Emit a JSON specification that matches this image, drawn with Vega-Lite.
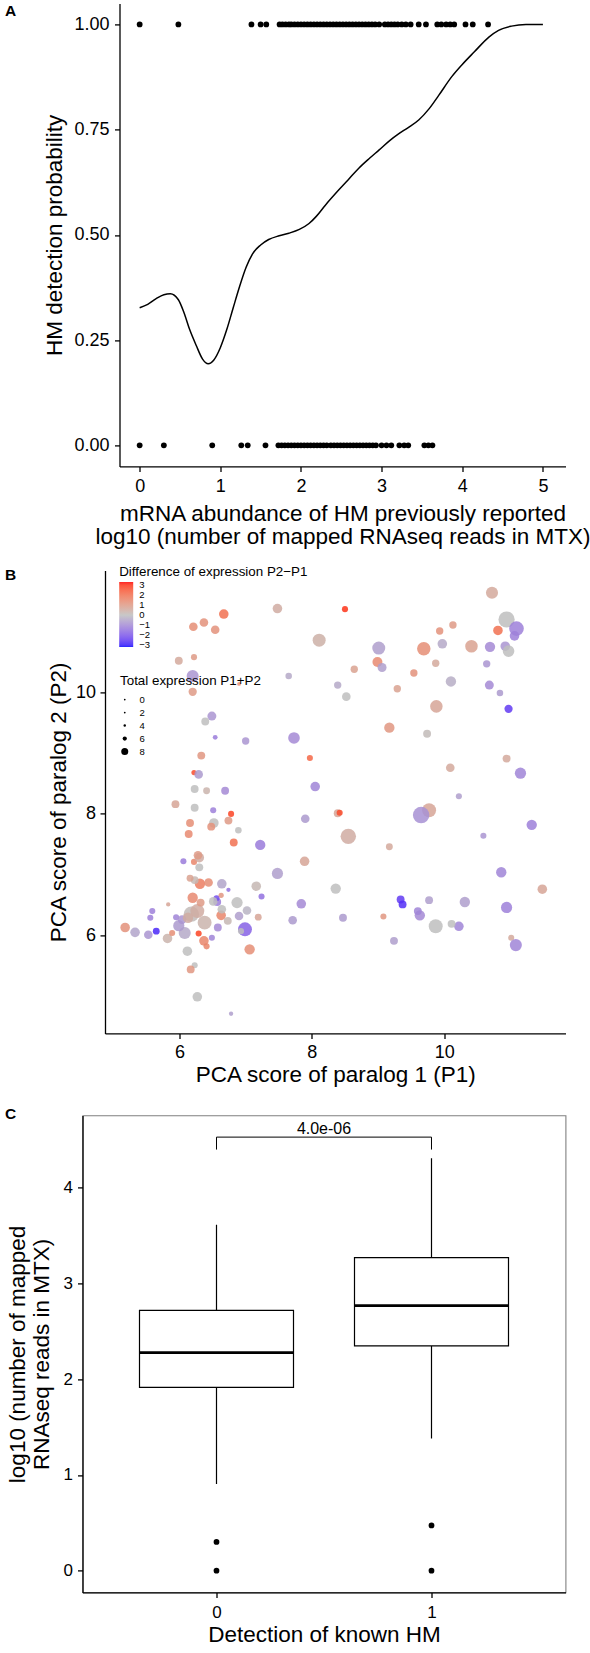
{
"$schema": "https://vega.github.io/schema/vega-lite/v6.json",
"padding": {"left": 3.5, "top": 3.4, "right": 5, "bottom": 5},
"bounds": "flush",
"spacing": 0,
"resolve": {"legend": {"color": "independent", "size": "independent"}, "scale": {"x": "independent", "y": "independent"}},
"config": {
  "font": "Liberation Sans",
  "view": {"stroke": null},
  "axis": {"grid": false, "domainColor": "black", "domainWidth": 1.3, "tickColor": "black", "tickWidth": 1.3, "tickSize": 5, "labelColor": "black", "titleColor": "black", "labelFont": "Liberation Sans", "titleFont": "Liberation Sans", "titleFontWeight": "normal", "labelFontSize": 18, "titleFontSize": 22.5},
  "legend": {"labelFont": "Liberation Sans", "titleFont": "Liberation Sans", "gradientLength": 65, "gradientThickness": 14},
  "title": {"font": "Liberation Sans", "color": "black"}
},
"datasets": {
  "a_pts": [
    {"x":0.0,"y":1},{"x":0.48,"y":1},{"x":1.386,"y":1},{"x":1.5,"y":1},{"x":1.57,"y":1},{"x":1.735,"y":1},{"x":1.77,"y":1},{"x":1.81,"y":1},{"x":1.85,"y":1},{"x":1.88,"y":1},{"x":1.92,"y":1},{"x":1.96,"y":1},{"x":2.0,"y":1},{"x":2.04,"y":1},{"x":2.08,"y":1},{"x":2.12,"y":1},{"x":2.16,"y":1},{"x":2.2,"y":1},{"x":2.24,"y":1},{"x":2.28,"y":1},{"x":2.32,"y":1},{"x":2.36,"y":1},{"x":2.4,"y":1},{"x":2.44,"y":1},{"x":2.48,"y":1},{"x":2.52,"y":1},{"x":2.56,"y":1},{"x":2.6,"y":1},{"x":2.64,"y":1},{"x":2.68,"y":1},{"x":2.72,"y":1},{"x":2.76,"y":1},{"x":2.8,"y":1},{"x":2.84,"y":1},{"x":2.88,"y":1},{"x":2.92,"y":1},{"x":2.97,"y":1},{"x":3.04,"y":1},{"x":3.08,"y":1},{"x":3.12,"y":1},{"x":3.16,"y":1},{"x":3.2,"y":1},{"x":3.25,"y":1},{"x":3.3,"y":1},{"x":3.36,"y":1},{"x":3.46,"y":1},{"x":3.55,"y":1},{"x":3.69,"y":1},{"x":3.74,"y":1},{"x":3.8,"y":1},{"x":3.85,"y":1},{"x":3.9,"y":1},{"x":4.04,"y":1},{"x":4.13,"y":1},{"x":4.32,"y":1},
    {"x":0.0,"y":0},{"x":0.3,"y":0},{"x":0.9,"y":0},{"x":1.26,"y":0},{"x":1.34,"y":0},{"x":1.56,"y":0},{"x":1.72,"y":0},{"x":1.76,"y":0},{"x":1.8,"y":0},{"x":1.84,"y":0},{"x":1.88,"y":0},{"x":1.92,"y":0},{"x":1.96,"y":0},{"x":2.0,"y":0},{"x":2.04,"y":0},{"x":2.08,"y":0},{"x":2.12,"y":0},{"x":2.16,"y":0},{"x":2.2,"y":0},{"x":2.24,"y":0},{"x":2.28,"y":0},{"x":2.32,"y":0},{"x":2.37,"y":0},{"x":2.41,"y":0},{"x":2.45,"y":0},{"x":2.49,"y":0},{"x":2.53,"y":0},{"x":2.57,"y":0},{"x":2.61,"y":0},{"x":2.65,"y":0},{"x":2.69,"y":0},{"x":2.73,"y":0},{"x":2.77,"y":0},{"x":2.81,"y":0},{"x":2.85,"y":0},{"x":2.89,"y":0},{"x":2.93,"y":0},{"x":3.0,"y":0},{"x":3.06,"y":0},{"x":3.12,"y":0},{"x":3.22,"y":0},{"x":3.28,"y":0},{"x":3.33,"y":0},{"x":3.53,"y":0},{"x":3.58,"y":0},{"x":3.63,"y":0}
  ],
  "a_curve": [
    {"x":0.0,"y":0.327},{"x":0.1,"y":0.335},{"x":0.2,"y":0.348},{"x":0.3,"y":0.358},{"x":0.38,"y":0.36},{"x":0.48,"y":0.346},{"x":0.55,"y":0.315},{"x":0.62,"y":0.275},{"x":0.7,"y":0.238},{"x":0.78,"y":0.205},{"x":0.85,"y":0.194},{"x":0.92,"y":0.203},{"x":1.0,"y":0.232},{"x":1.08,"y":0.275},{"x":1.16,"y":0.327},{"x":1.24,"y":0.378},{"x":1.32,"y":0.423},{"x":1.4,"y":0.455},{"x":1.5,"y":0.476},{"x":1.6,"y":0.489},{"x":1.73,"y":0.498},{"x":1.85,"y":0.504},{"x":1.98,"y":0.513},{"x":2.1,"y":0.527},{"x":2.19,"y":0.544},{"x":2.3,"y":0.57},{"x":2.47,"y":0.607},{"x":2.6,"y":0.634},{"x":2.72,"y":0.659},{"x":2.85,"y":0.682},{"x":2.97,"y":0.702},{"x":3.1,"y":0.724},{"x":3.21,"y":0.74},{"x":3.33,"y":0.755},{"x":3.46,"y":0.773},{"x":3.59,"y":0.8},{"x":3.71,"y":0.832},{"x":3.87,"y":0.876},{"x":4.0,"y":0.905},{"x":4.15,"y":0.935},{"x":4.33,"y":0.97},{"x":4.45,"y":0.986},{"x":4.61,"y":0.996},{"x":4.79,"y":1.0},{"x":5.0,"y":1.0}
  ],
  "b_pts": [
    {"p1":10.72,"p2":11.64,"diff":0.6,"total":10.6},{"p1":7.48,"p2":11.38,"diff":0.5,"total":9.4},{"p1":8.5,"p2":11.37,"diff":3.0,"total":7.4},{"p1":6.67,"p2":11.29,"diff":2.0,"total":9.4},{"p1":6.37,"p2":11.15,"diff":1.2,"total":8.9},{"p1":6.21,"p2":11.08,"diff":1.3,"total":8.9},{"p1":6.54,"p2":11.03,"diff":1.2,"total":8.9},{"p1":8.11,"p2":10.86,"diff":0.4,"total":11.0},{"p1":10.94,"p2":11.2,"diff":0.0,"total":12.3},{"p1":11.09,"p2":11.05,"diff":-1.2,"total":11.7},{"p1":10.81,"p2":11.02,"diff":2.0,"total":9.4},{"p1":10.13,"p2":11.11,"diff":1.0,"total":8.2},{"p1":9.93,"p2":11.01,"diff":1.2,"total":8.2},{"p1":9.01,"p2":10.73,"diff":-0.6,"total":11.0},{"p1":9.69,"p2":10.72,"diff":1.3,"total":11.2},{"p1":9.97,"p2":10.8,"diff":-0.4,"total":9.4},{"p1":10.41,"p2":10.76,"diff":0.8,"total":10.8},{"p1":10.69,"p2":10.75,"diff":-1.0,"total":9.8},{"p1":10.92,"p2":10.76,"diff":-0.8,"total":9.4},{"p1":10.97,"p2":10.68,"diff":0.0,"total":10.4},{"p1":11.06,"p2":10.93,"diff":-1.2,"total":9.4},
    {"p1":5.99,"p2":10.52,"diff":0.6,"total":8.5},{"p1":6.22,"p2":10.58,"diff":1.0,"total":7.4},{"p1":6.2,"p2":10.27,"diff":-0.8,"total":10.6},{"p1":6.2,"p2":10.01,"diff":1.0,"total":8.7},{"p1":6.9,"p2":10.14,"diff":1.3,"total":5.7},{"p1":7.65,"p2":10.27,"diff":-0.4,"total":7.7},{"p1":8.64,"p2":10.38,"diff":0.8,"total":8.2},{"p1":8.99,"p2":10.5,"diff":1.4,"total":9.6},{"p1":9.06,"p2":10.41,"diff":-0.6,"total":9.1},{"p1":9.54,"p2":10.32,"diff":1.2,"total":8.2},{"p1":9.87,"p2":10.48,"diff":0.6,"total":8.2},{"p1":10.64,"p2":10.47,"diff":-0.8,"total":8.2},{"p1":10.1,"p2":10.18,"diff":-0.3,"total":9.8},{"p1":10.68,"p2":10.12,"diff":-1.0,"total":9.1},{"p1":10.84,"p2":9.99,"diff":-0.7,"total":7.7},{"p1":10.97,"p2":9.73,"diff":-2.5,"total":8.7},{"p1":8.39,"p2":10.12,"diff":-0.4,"total":8.2},{"p1":8.52,"p2":9.93,"diff":0.0,"total":8.9},{"p1":9.29,"p2":10.06,"diff":0.8,"total":8.2},{"p1":9.88,"p2":9.77,"diff":0.7,"total":10.8},{"p1":9.17,"p2":9.42,"diff":1.1,"total":9.8},{"p1":9.74,"p2":9.32,"diff":0.1,"total":8.5},
    {"p1":6.49,"p2":9.61,"diff":-0.8,"total":9.1},{"p1":6.39,"p2":9.52,"diff":0.0,"total":8.5},{"p1":6.54,"p2":9.26,"diff":-1.3,"total":6.5},{"p1":7.0,"p2":9.2,"diff":-0.8,"total":8.2},{"p1":7.73,"p2":9.25,"diff":-1.0,"total":10.4},{"p1":6.33,"p2":8.96,"diff":1.1,"total":8.5},{"p1":6.22,"p2":8.68,"diff":2.7,"total":6.8},{"p1":6.29,"p2":8.65,"diff":-0.7,"total":8.9},{"p1":6.23,"p2":8.41,"diff":0.0,"total":8.5},{"p1":6.41,"p2":8.38,"diff":0.3,"total":7.9},{"p1":6.69,"p2":8.38,"diff":-1.0,"total":8.5},{"p1":7.97,"p2":8.92,"diff":2.2,"total":7.4},{"p1":8.05,"p2":8.45,"diff":-1.1,"total":9.4},{"p1":10.09,"p2":8.76,"diff":0.6,"total":8.9},{"p1":10.22,"p2":8.29,"diff":-0.6,"total":7.4},{"p1":10.94,"p2":8.91,"diff":0.6,"total":8.5},{"p1":11.15,"p2":8.67,"diff":-1.1,"total":10.2},
    {"p1":5.94,"p2":8.16,"diff":0.7,"total":8.5},{"p1":6.23,"p2":8.1,"diff":0.0,"total":8.5},{"p1":6.51,"p2":8.06,"diff":-1.2,"total":7.4},{"p1":6.78,"p2":8.0,"diff":2.8,"total":7.4},{"p1":6.74,"p2":7.89,"diff":1.0,"total":8.5},{"p1":6.52,"p2":7.85,"diff":0.0,"total":9.4},{"p1":6.48,"p2":7.79,"diff":1.2,"total":8.5},{"p1":6.16,"p2":7.85,"diff":1.3,"total":8.5},{"p1":6.89,"p2":7.73,"diff":0.0,"total":7.7},{"p1":6.14,"p2":7.67,"diff":1.4,"total":8.5},{"p1":6.82,"p2":7.53,"diff":2.0,"total":8.5},{"p1":7.22,"p2":7.49,"diff":-1.3,"total":9.8},{"p1":7.9,"p2":7.92,"diff":-0.7,"total":8.9},{"p1":8.39,"p2":8.01,"diff":0.7,"total":8.5},{"p1":8.42,"p2":8.02,"diff":2.7,"total":7.4},{"p1":8.55,"p2":7.63,"diff":0.5,"total":12.0},{"p1":9.17,"p2":7.46,"diff":0.6,"total":7.9},{"p1":9.77,"p2":8.06,"diff":0.7,"total":11.4},{"p1":9.65,"p2":7.98,"diff":-0.9,"total":12.4},{"p1":10.59,"p2":7.64,"diff":-0.8,"total":7.4},{"p1":11.32,"p2":7.82,"diff":-1.2,"total":9.8},
    {"p1":11.48,"p2":6.76,"diff":0.7,"total":9.4},{"p1":10.86,"p2":7.04,"diff":-1.1,"total":9.8},{"p1":10.94,"p2":6.46,"diff":-1.2,"total":10.2},{"p1":11.01,"p2":5.96,"diff":0.6,"total":7.4},{"p1":11.08,"p2":5.84,"diff":-1.1,"total":10.6},{"p1":10.31,"p2":6.55,"diff":-0.6,"total":9.8},{"p1":10.22,"p2":6.15,"diff":-1.1,"total":9.4},{"p1":10.11,"p2":6.19,"diff":0.0,"total":8.5},{"p1":9.87,"p2":6.15,"diff":0.0,"total":11.4},{"p1":9.77,"p2":6.58,"diff":-0.6,"total":8.5},{"p1":9.63,"p2":6.33,"diff":-1.0,"total":9.8},{"p1":9.6,"p2":6.4,"diff":-1.1,"total":8.5},{"p1":9.34,"p2":6.59,"diff":-2.5,"total":8.5},{"p1":9.37,"p2":6.51,"diff":-2.7,"total":8.5},{"p1":9.24,"p2":5.91,"diff":-0.6,"total":8.5},{"p1":9.08,"p2":6.31,"diff":1.1,"total":7.4},{"p1":8.47,"p2":6.29,"diff":-0.7,"total":8.5},{"p1":8.36,"p2":6.77,"diff":0.0,"total":9.8},{"p1":7.84,"p2":6.52,"diff":-1.0,"total":9.4},{"p1":7.71,"p2":6.25,"diff":-0.7,"total":8.9},{"p1":7.89,"p2":7.22,"diff":0.7,"total":9.4},{"p1":7.48,"p2":7.02,"diff":-0.6,"total":10.2},{"p1":7.16,"p2":6.81,"diff":0.2,"total":9.4},{"p1":7.24,"p2":6.64,"diff":-1.5,"total":7.4},{"p1":7.19,"p2":6.3,"diff":0.7,"total":7.9},{"p1":7.02,"p2":6.41,"diff":-0.2,"total":8.9},{"p1":6.99,"p2":6.1,"diff":-1.8,"total":11.4},{"p1":6.93,"p2":6.07,"diff":0.0,"total":7.4},{"p1":7.06,"p2":5.77,"diff":1.3,"total":9.8},
    {"p1":6.18,"p2":6.35,"diff":0.1,"total":12.0},{"p1":6.27,"p2":6.4,"diff":0.5,"total":11.4},{"p1":6.38,"p2":6.21,"diff":0.3,"total":11.4},{"p1":6.08,"p2":6.04,"diff":-0.4,"total":10.6},{"p1":5.99,"p2":6.16,"diff":-0.7,"total":10.2},{"p1":6.87,"p2":6.54,"diff":0.0,"total":10.2},{"p1":6.74,"p2":6.75,"diff":-1.5,"total":6.1},{"p1":6.64,"p2":6.85,"diff":-0.5,"total":9.4},{"p1":6.57,"p2":6.55,"diff":-1.3,"total":8.5},{"p1":6.56,"p2":6.61,"diff":-2.2,"total":7.4},{"p1":6.63,"p2":6.33,"diff":1.5,"total":9.4},{"p1":6.58,"p2":6.13,"diff":-1.0,"total":8.5},{"p1":6.49,"p2":5.96,"diff":-1.1,"total":7.4},{"p1":6.37,"p2":5.91,"diff":1.5,"total":9.4},{"p1":6.41,"p2":5.82,"diff":1.5,"total":7.4},{"p1":6.31,"p2":6.85,"diff":1.7,"total":9.8},{"p1":6.44,"p2":6.87,"diff":1.3,"total":8.9},{"p1":6.23,"p2":6.91,"diff":0.2,"total":8.5},{"p1":6.32,"p2":6.54,"diff":1.0,"total":8.5},{"p1":6.16,"p2":6.94,"diff":0.8,"total":7.9},{"p1":6.06,"p2":7.22,"diff":-1.3,"total":7.4},{"p1":6.22,"p2":7.21,"diff":1.5,"total":7.4},{"p1":6.3,"p2":7.28,"diff":0.5,"total":9.4},{"p1":6.28,"p2":7.32,"diff":1.0,"total":8.9},{"p1":6.3,"p2":7.12,"diff":0.0,"total":8.5},{"p1":5.83,"p2":6.51,"diff":0.7,"total":6.1},{"p1":5.95,"p2":6.3,"diff":-1.1,"total":7.4},{"p1":6.04,"p2":6.26,"diff":-0.8,"total":8.9},{"p1":6.13,"p2":6.29,"diff":0.5,"total":9.8},{"p1":6.64,"p2":6.43,"diff":0.0,"total":8.9},{"p1":5.59,"p2":6.4,"diff":-1.2,"total":7.4},{"p1":5.56,"p2":6.29,"diff":-1.2,"total":7.4},{"p1":5.18,"p2":6.13,"diff":1.2,"total":9.4},{"p1":5.33,"p2":6.05,"diff":-0.5,"total":9.4},{"p1":5.53,"p2":6.01,"diff":-0.8,"total":8.9},{"p1":5.65,"p2":6.07,"diff":-2.8,"total":7.9},{"p1":5.82,"p2":5.95,"diff":0.3,"total":9.4},{"p1":5.89,"p2":6.04,"diff":1.3,"total":7.4},{"p1":6.12,"p2":5.74,"diff":0.0,"total":9.4},{"p1":6.23,"p2":5.51,"diff":0.0,"total":7.4},{"p1":6.17,"p2":5.44,"diff":1.1,"total":8.5},{"p1":6.27,"p2":4.99,"diff":0.0,"total":9.4},{"p1":6.78,"p2":4.71,"diff":-0.6,"total":6.1},{"p1":6.63,"p2":6.66,"diff":1.1,"total":6.8},{"p1":6.73,"p2":6.24,"diff":0.2,"total":8.5},{"p1":6.9,"p2":6.32,"diff":-0.6,"total":8.9},{"p1":6.2,"p2":6.62,"diff":1.4,"total":9.8},{"p1":6.51,"p2":6.56,"diff":0.0,"total":8.9},{"p1":6.29,"p2":6.03,"diff":2.8,"total":7.4}
  ],
  "c_box": [
    {"g":0,"lo":0.906,"q1":1.915,"med":2.278,"q3":2.72,"hi":3.615},
    {"g":1,"lo":1.38,"q1":2.348,"med":2.77,"q3":3.27,"hi":4.31}
  ],
  "c_out": [{"g":0,"v":0.3},{"g":0,"v":0.0},{"g":1,"v":0.473},{"g":1,"v":0.0}],
  "c_br": [{"x0":0,"x1":1,"xm":0.5,"y":4.53,"ylab":4.62,"label":"4.0e-06"}],
  "c_brv": [{"x":0,"y0":4.4,"y1":4.53},{"x":1,"y0":4.4,"y1":4.53}]
},
"vconcat": [
  {
    "width": 483, "height": 567,
    "title": {"text": "A", "anchor": "start", "frame": "group", "orient": "top", "fontSize": 15.5, "fontWeight": "bold", "baseline": "top", "dx": -77.5, "offset": -16},
    "layer": [
      {"data": {"name": "a_pts"}, "mark": {"type": "circle", "color": "black", "size": 33, "opacity": 1},
       "encoding": {
         "x": {"field": "x", "type": "quantitative", "scale": {"domain": [-0.25, 5.28], "range": [37, 483], "nice": false, "zero": false},
               "axis": {"title": ["mRNA abundance of HM previously reported", "log10 (number of mapped RNAseq reads in MTX)"], "values": [0,1,2,3,4,5], "format": "d", "offset": -104, "labelPadding": 6.5, "titlePadding": 7, "titleLineHeight": 23}},
         "y": {"field": "y", "type": "quantitative", "scale": {"domain": [-0.05, 1.05], "range": [463, 0], "nice": false, "zero": false},
               "axis": {"title": "HM detection probability", "values": [0,0.25,0.5,0.75,1], "format": ".2f", "offset": -37, "labelPadding": 5.5, "titlePadding": 7.5}}
       }},
      {"data": {"name": "a_curve"}, "mark": {"type": "line", "color": "black", "strokeWidth": 1.5, "interpolate": "monotone"},
       "encoding": {"x": {"field": "x", "type": "quantitative"}, "y": {"field": "y", "type": "quantitative"}}}
    ]
  },
  {
    "width": 483, "height": 545,
    "title": {"text": "B", "anchor": "start", "frame": "group", "orient": "top", "fontSize": 15.5, "fontWeight": "bold", "baseline": "top", "dx": -77.5, "offset": -18.8},
    "data": {"name": "b_pts"},
    "mark": {"type": "circle", "opacity": 0.85},
    "encoding": {
      "x": {"field": "p1", "type": "quantitative", "scale": {"domain": [4.876, 11.83], "range": [22.5, 483], "nice": false, "zero": false},
            "axis": {"title": "PCA score of paralog 1 (P1)", "values": [6,8,10], "format": "d", "offset": -82, "labelPadding": 5, "titlePadding": 2}},
      "y": {"field": "p2", "type": "quantitative", "scale": {"domain": [4.387, 12.008], "range": [463, 0], "nice": false, "zero": false},
            "axis": {"title": "PCA score of paralog 2 (P2)", "values": [6,8,10], "format": "d", "offset": -22.5, "labelPadding": 4.5, "titlePadding": 5}},
      "color": {"field": "diff", "type": "quantitative", "scale": {"domain": [-3.2, 0, 3.3], "range": ["#0000FF", "#BEBEBE", "#FF0000"], "interpolate": "lab"},
            "legend": {"title": "Difference of expression P2\u2212P1", "titleLimit": 400, "orient": "none", "legendX": 36.7, "legendY": -5.7, "direction": "vertical", "gradientLength": 65, "gradientThickness": 14, "gradientStrokeWidth": 0, "values": [3,2,1,0,-1,-2,-3], "format": "d", "labelFontSize": 9.5, "labelOffset": 6, "labelOverlap": false, "titleFontSize": 13.4, "titleFontWeight": "normal", "titlePadding": 4, "padding": 0, "labelColor": "black", "titleColor": "black"}},
      "size": {"field": "total", "type": "quantitative", "scale": {"type": "pow", "exponent": 4, "domain": [0, 12.5], "range": [3, 280], "zero": false},
            "legend": {"title": "Total expression P1+P2", "titleLimit": 400, "orient": "none", "legendX": 37.5, "legendY": 104, "values": [0,2,4,6,8], "symbolFillColor": "black", "symbolStrokeWidth": 0, "symbolOpacity": 1, "symbolType": "circle", "labelFontSize": 9.5, "labelOffset": 10, "titleFontSize": 13.4, "titleFontWeight": "normal", "titlePadding": 7, "rowPadding": 2, "padding": 0, "labelColor": "black", "titleColor": "black"}}
    }
  },
  {
    "width": 483, "height": 477,
    "view": {"stroke": "#808080", "strokeWidth": 1.1},
    "title": {"text": "C", "anchor": "start", "frame": "group", "orient": "top", "fontSize": 15.5, "fontWeight": "bold", "baseline": "top", "dx": -77.5, "offset": -6.95},
    "layer": [
      {"data": {"name": "c_box"}, "mark": {"type": "rule", "color": "black", "strokeWidth": 1.2},
       "encoding": {
         "x": {"field": "g", "type": "quantitative", "scale": {"domain": [-0.6, 1.6], "nice": false, "zero": false},
               "axis": {"title": "Detection of known HM", "values": [0,1], "format": "d", "labelFontSize": 17, "labelPadding": 7, "titlePadding": 3.5}},
         "y": {"field": "lo", "type": "quantitative", "scale": {"domain": [-0.2265, 4.757], "nice": false, "zero": false},
               "axis": {"title": ["log10 (number of mapped", "RNAseq reads in MTX)"], "values": [0,1,2,3,4], "format": "d", "labelFontSize": 17, "labelPadding": 5, "titlePadding": 10, "titleLineHeight": 24}},
         "y2": {"field": "hi"}
       }},
      {"data": {"name": "c_box"}, "mark": {"type": "bar", "fill": "white", "stroke": "black", "strokeWidth": 1.2, "width": 154},
       "encoding": {"x": {"field": "g", "type": "quantitative"}, "y": {"field": "q1", "type": "quantitative"}, "y2": {"field": "q3"}}},
      {"data": {"name": "c_box"}, "mark": {"type": "tick", "orient": "horizontal", "size": 154, "thickness": 2.6, "color": "black", "opacity": 1},
       "encoding": {"x": {"field": "g", "type": "quantitative"}, "y": {"field": "med", "type": "quantitative"}}},
      {"data": {"name": "c_out"}, "mark": {"type": "circle", "color": "black", "size": 33, "opacity": 1},
       "encoding": {"x": {"field": "g", "type": "quantitative"}, "y": {"field": "v", "type": "quantitative"}}},
      {"data": {"name": "c_br"}, "mark": {"type": "rule", "color": "black", "strokeWidth": 1},
       "encoding": {"x": {"field": "x0", "type": "quantitative"}, "x2": {"field": "x1"}, "y": {"field": "y", "type": "quantitative"}}},
      {"data": {"name": "c_brv"}, "mark": {"type": "rule", "color": "black", "strokeWidth": 1},
       "encoding": {"x": {"field": "x", "type": "quantitative"}, "y": {"field": "y0", "type": "quantitative"}, "y2": {"field": "y1"}}},
      {"data": {"name": "c_br"}, "mark": {"type": "text", "fontSize": 16, "color": "black", "baseline": "middle", "align": "center"},
       "encoding": {"x": {"field": "xm", "type": "quantitative"}, "y": {"field": "ylab", "type": "quantitative"}, "text": {"field": "label"}}}
    ]
  }
]
}
